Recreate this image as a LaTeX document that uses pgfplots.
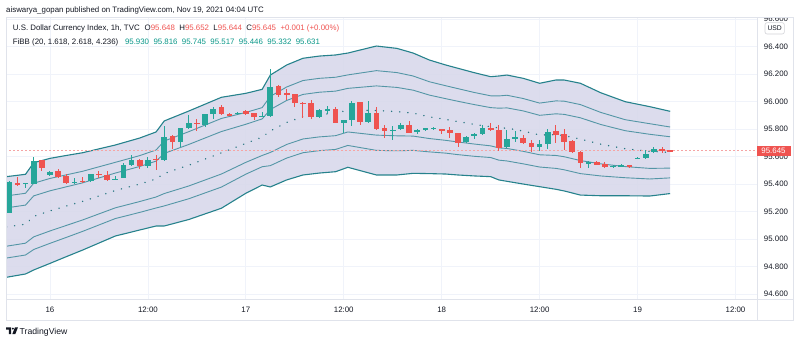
\documentclass[border=0pt]{standalone}
\usepackage{fontspec}
\setmainfont{Liberation Sans}
\usepackage{pgfplots}
\pgfplotsset{compat=1.18}
\usepackage{pgfplotstable}
\usepgfplotslibrary{fillbetween}

\definecolor{upc}{RGB}{38,166,154}
\definecolor{dnc}{RGB}{239,83,80}
\definecolor{outerc}{RGB}{38,130,140}
\definecolor{innerc}{RGB}{84,150,166}
\definecolor{basec}{RGB}{40,118,130}
\definecolor{bandfill}{RGB}{217,217,235}
\definecolor{gridc}{RGB}{240,243,250}
\definecolor{framec}{RGB}{224,227,235}
\definecolor{txt}{RGB}{19,23,34}
\definecolor{valc}{RGB}{8,150,136}
\definecolor{pricec}{RGB}{245,165,165}

\pgfplotstableread{
t o h l c
-5 95.195 95.420 95.190 95.414
-3 95.404 95.412 95.370 95.408
-2 95.404 95.595 95.400 95.571
0 95.467 95.495 95.460 95.491
3 95.414 95.447 95.406 95.421
5 95.423 95.478 95.420 95.472
8 95.433 95.460 95.428 95.440
9 95.447 95.557 95.445 95.540
10 95.540 95.612 95.535 95.576
12 95.532 95.600 95.515 95.576
14 95.576 95.823 95.570 95.746
16 95.709 95.812 95.673 95.806
17 95.806 95.903 95.800 95.843
19 95.831 95.915 95.814 95.911
20 95.911 95.960 95.879 95.952
23 95.911 95.925 95.908 95.921
26 95.895 95.927 95.890 95.898
27 95.896 96.240 95.890 96.109
33 95.891 95.945 95.885 95.937
34 95.938 95.967 95.911 95.942
36 95.848 95.870 95.775 95.867
37 95.867 96.005 95.826 95.995
39 95.850 96.007 95.845 95.915
42 95.790 95.823 95.726 95.795
43 95.799 95.847 95.793 95.828
45 95.777 95.800 95.767 95.794
46 95.794 95.812 95.790 95.809
47 95.806 95.818 95.795 95.809
51 95.709 95.750 95.700 95.746
52 95.751 95.775 95.726 95.763
53 95.763 95.828 95.760 95.806
56 95.673 95.799 95.668 95.726
57 95.729 95.787 95.709 95.741
60 95.673 95.721 95.644 95.695
61 95.692 95.806 95.654 95.782
66 95.552 95.566 95.520 95.564
69 95.527 95.537 95.520 95.535
70 95.535 95.547 95.527 95.537
72 95.588 95.596 95.585 95.593
73 95.588 95.649 95.581 95.624
74 95.632 95.668 95.630 95.654
}\candleup

\pgfplotstableread{
t o h l c
-4 95.411 95.455 95.387 95.400
-1 95.576 95.580 95.496 95.520
1 95.496 95.513 95.450 95.455
2 95.462 95.474 95.405 95.411
4 95.426 95.455 95.412 95.416
6 95.477 95.498 95.447 95.467
7 95.469 95.498 95.425 95.430
11 95.576 95.585 95.508 95.532
13 95.581 95.612 95.503 95.578
15 95.751 95.760 95.661 95.709
18 95.847 95.877 95.789 95.843
21 95.964 95.976 95.905 95.911
22 95.915 95.918 95.895 95.900
24 95.937 95.940 95.906 95.911
25 95.915 95.918 95.867 95.891
28 96.117 96.125 96.032 96.049
29 96.061 96.090 96.012 96.058
30 96.054 96.060 95.964 95.993
31 95.993 95.998 95.880 95.981
32 95.988 96.012 95.876 95.887
35 95.947 95.964 95.845 95.848
38 96.000 96.003 95.830 95.855
40 95.920 95.964 95.796 95.801
41 95.806 95.830 95.738 95.784
44 95.828 95.857 95.770 95.772
48 95.799 95.800 95.763 95.787
49 95.792 95.814 95.741 95.770
50 95.770 95.775 95.668 95.702
54 95.813 95.843 95.790 95.794
55 95.799 95.831 95.644 95.668
58 95.734 95.758 95.692 95.697
59 95.704 95.721 95.636 95.668
62 95.789 95.830 95.697 95.758
63 95.765 95.799 95.649 95.709
64 95.714 95.720 95.625 95.632
65 95.634 95.640 95.520 95.552
67 95.559 95.571 95.538 95.542
68 95.547 95.561 95.520 95.523
71 95.540 95.542 95.520 95.523
75 95.658 95.668 95.629 95.646
76 95.648 95.652 95.644 95.645
}\candledn

\pgfplotstableread{
t u3 u2 u1 b l1 l2 l3
-5.33 95.455 95.315 95.228 95.089 94.949 94.863 94.723
-3 95.472 95.334 95.248 95.109 94.971 94.885 94.747
-2 95.556 95.407 95.315 95.166 95.017 94.925 94.776
0 95.588 95.442 95.352 95.206 95.060 94.970 94.824
2 95.609 95.468 95.381 95.241 95.100 95.013 94.873
4 95.629 95.494 95.410 95.275 95.140 95.057 94.921
8 95.685 95.559 95.481 95.354 95.228 95.150 95.023
11 95.736 95.608 95.529 95.401 95.274 95.195 95.067
13 95.780 95.649 95.568 95.438 95.307 95.227 95.096
14 95.860 95.714 95.624 95.478 95.332 95.242 95.096
17 95.932 95.782 95.689 95.538 95.387 95.294 95.143
21 96.032 95.878 95.783 95.628 95.474 95.379 95.225
24 96.061 95.922 95.836 95.697 95.559 95.473 95.334
26 96.090 95.957 95.875 95.742 95.609 95.527 95.394
27 96.194 96.039 95.943 95.787 95.631 95.535 95.380
29 96.267 96.107 96.009 95.849 95.689 95.590 95.431
31 96.316 96.154 96.053 95.891 95.729 95.629 95.467
33 96.332 96.170 96.069 95.907 95.744 95.644 95.481
35 96.340 96.178 96.077 95.915 95.753 95.653 95.491
36.5 96.354 96.195 96.097 95.939 95.780 95.682 95.523
40 96.405 96.226 96.115 95.936 95.757 95.646 95.467
42.5 96.388 96.212 96.104 95.928 95.752 95.643 95.467
44.5 96.354 96.187 96.084 95.917 95.750 95.646 95.479
46.5 96.303 96.145 96.048 95.890 95.732 95.635 95.477
48.5 96.267 96.116 96.022 95.871 95.719 95.626 95.474
50 96.243 96.095 96.003 95.855 95.707 95.615 95.467
52 96.211 96.067 95.979 95.835 95.692 95.603 95.460
54 96.182 96.043 95.957 95.818 95.679 95.594 95.455
55 96.187 96.042 95.953 95.809 95.664 95.575 95.431
56 96.194 96.047 95.955 95.808 95.660 95.569 95.421
58 96.170 96.023 95.933 95.786 95.639 95.548 95.401
60 96.134 95.990 95.901 95.758 95.614 95.525 95.382
62 96.158 96.006 95.912 95.760 95.609 95.515 95.363
63 96.158 96.004 95.908 95.754 95.600 95.505 95.351
65 96.134 95.979 95.883 95.728 95.572 95.477 95.321
67.5 96.065 95.922 95.834 95.691 95.548 95.460 95.316
70.5 96.000 95.869 95.789 95.658 95.528 95.447 95.316
73.5 95.964 95.840 95.763 95.639 95.515 95.438 95.314
76 95.930 95.816 95.745 95.631 95.517 95.446 95.332
}\bands

\newcommand{\tf}{\fontsize{7.9}{9}\selectfont}

\begin{document}
\begin{tikzpicture}[x=1bp,y=1bp]
\begin{axis}[
  at={(6.5bp,44bp)}, anchor=south west,
  scale only axis, width=750.5bp, height=281.7bp,
  xmin=-5.33, xmax=86.64, ymin=94.565, ymax=96.614,
  xtick={0,12,24,36,48,60,72,84},
  xticklabels={16,12:00,17,12:00,18,12:00,19,12:00},
  ytick={94.6,94.8,95,95.2,95.4,95.6,95.8,96,96.2,96.4,96.6},
  yticklabel pos=right,
  major tick length=0,
  grid=major,
  major grid style={draw=gridc, line width=0.8bp},
  axis line style={draw=framec, line width=0.8bp},
  tick label style={font=\tf, text=txt},
  xticklabel style={anchor=center, yshift=-11bp},
  yticklabel style={anchor=west, xshift=3.4bp},
  /pgf/number format/fixed,
  /pgf/number format/fixed zerofill,
  /pgf/number format/precision=3,
  /pgf/number format/assume math mode=true,
  clip=true,
]
\addplot[name path=U3, draw=none, forget plot] table[x=t,y=u3]{\bands};
\addplot[name path=L3, draw=none, forget plot] table[x=t,y=l3]{\bands};
\addplot[fill=bandfill, fill opacity=0.92, draw=none, forget plot] fill between[of=U3 and L3];

\addplot[innerc, line width=0.9bp, forget plot] table[x=t,y=u2]{\bands};
\addplot[innerc, line width=0.9bp, forget plot] table[x=t,y=u1]{\bands};
\addplot[innerc, line width=0.9bp, forget plot] table[x=t,y=l1]{\bands};
\addplot[innerc, line width=0.9bp, forget plot] table[x=t,y=l2]{\bands};
\addplot[outerc, line width=1.1bp, forget plot] table[x=t,y=u3]{\bands};
\addplot[outerc, line width=1.1bp, forget plot] table[x=t,y=l3]{\bands};
\addplot[basec, line width=1.4bp, line cap=round, dash pattern=on 0.2bp off 7.96bp, forget plot] table[x=t,y=b]{\bands};

\addplot[pricec, line width=0.7bp, dash pattern=on 2bp off 2bp, forget plot] coordinates {(-6,95.645) (90,95.645)};

% wicks
\addplot[draw=none, mark=none, forget plot,
  error bars/.cd, y dir=both, y explicit, error mark=none,
  error bar style={draw=upc, line width=1bp}]
  table[x=t, y expr={(\thisrow{h}+\thisrow{l})/2}, y error expr={(\thisrow{h}-\thisrow{l})/2}]{\candleup};
\addplot[draw=none, mark=none, forget plot,
  error bars/.cd, y dir=both, y explicit, error mark=none,
  error bar style={draw=dnc, line width=1bp}]
  table[x=t, y expr={(\thisrow{h}+\thisrow{l})/2}, y error expr={(\thisrow{h}-\thisrow{l})/2}]{\candledn};
% bodies
\addplot[draw=none, mark=none, forget plot,
  error bars/.cd, y dir=both, y explicit, error mark=none,
  error bar style={draw=upc, line width=5.7bp}]
  table[x=t, y expr={(\thisrow{o}+\thisrow{c})/2}, y error expr={max(abs(\thisrow{c}-\thisrow{o})/2,0.0036)}]{\candleup};
\addplot[draw=none, mark=none, forget plot,
  error bars/.cd, y dir=both, y explicit, error mark=none,
  error bar style={draw=dnc, line width=5.7bp}]
  table[x=t, y expr={(\thisrow{o}+\thisrow{c})/2}, y error expr={max(abs(\thisrow{c}-\thisrow{o})/2,0.0036)}]{\candledn};
\end{axis}

\begin{scope}[yshift=343bp, yscale=-1]
  \fill[white] (757.6,0) rectangle (799,16.9);
  \draw[framec, line width=0.8bp] (6.5,17.3) rectangle (793,320);
  \draw[framec, line width=0.8bp] (757,299) -- (793,299);
  \draw[framec, line width=0.8bp] (757,299) -- (757,320);
  \draw[framec!80!black!60, fill=white, line width=0.6bp, rounded corners=2bp] (765,22.7) rectangle (784.3,34);
  \node[font=\fontsize{6.8}{8}\selectfont, text=txt, inner sep=0] at (774.65,28.4) {USD};
  \fill[dnc] (756.6,145.7) rectangle (790.5,156);
  \node[font=\tf, text=white, inner sep=0] at (773.5,150.9) {95.645};
  \node[anchor=base west, inner sep=0, font=\tf, text=txt] at (6,12.3)
    {aiswarya\_gopan published on TradingView.com, Nov 19, 2021 04:04 UTC};
  \node[anchor=base west, inner sep=0, font=\tf, text=txt] at (12.7,31)
    {U.S. Dollar Currency Index, 1h, TVC\hspace{5bp}O\textcolor{dnc}{95.648}\hspace{4.4bp}H\textcolor{dnc}{95.652}\hspace{4.4bp}L\textcolor{dnc}{95.644}\hspace{4.4bp}C\textcolor{dnc}{95.645}\hspace{4.4bp}\textcolor{dnc}{+0.001 (+0.00\%)}};
  \node[anchor=base west, inner sep=0, font=\tf, text=txt] at (12.7,44.5)
    {FiBB (20, 1.618, 2.618, 4.236)\hspace{6.7bp}\textcolor{valc}{95.930\hspace{4.4bp}95.816\hspace{4.4bp}95.745\hspace{4.4bp}95.517\hspace{4.4bp}95.446\hspace{4.4bp}95.332\hspace{4.4bp}95.631}};
  \fill[txt] (6,327.3) -- (11.2,327.3) -- (11.2,334) -- (8.8,334) -- (8.8,329.6) -- (6,329.6) -- cycle;
  \fill[txt] (12.9,328.6) circle (1.1);
  \fill[txt] (15,327.3) -- (18,327.3) -- (15.3,334) -- (12.3,334) -- cycle;
  \node[anchor=base west, inner sep=0, font=\fontsize{8.7}{10}\selectfont, text=txt] at (19.5,334.3) {TradingView};
\end{scope}
\pgfresetboundingbox
\path[use as bounding box] (0,0) rectangle (800,343);
\end{tikzpicture}
\end{document}
